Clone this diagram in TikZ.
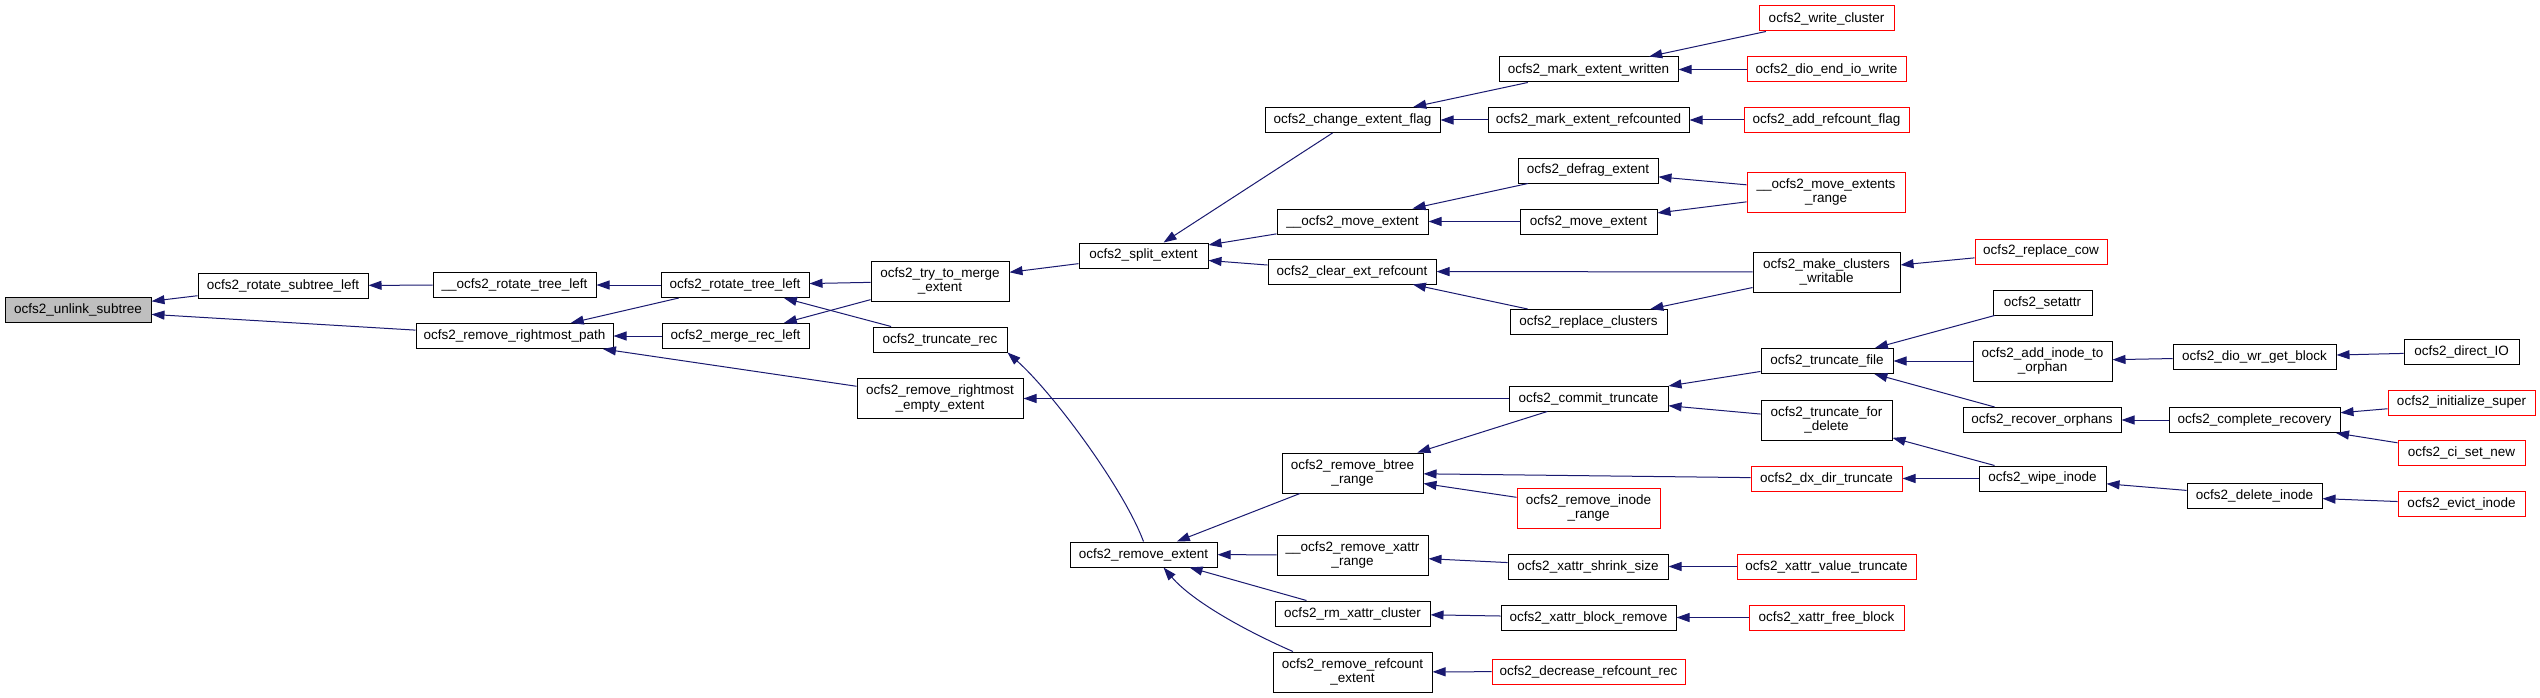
\documentclass[tikz,border=0pt]{standalone}
\usepackage{fontspec}
\setmainfont{Liberation Sans}
\usetikzlibrary{arrows.meta}
\definecolor{edgeblue}{HTML}{191970}
\definecolor{rootgray}{HTML}{BFBFBF}

\begin{document}
\begin{tikzpicture}[x=1pt,y=-1pt,
  every node/.style={font=\fontsize{13.5}{14.7}\selectfont},
  fn/.style={rectangle,draw=black,line width=1pt,fill=white,align=center,inner sep=0pt,minimum height=25pt},
  fnred/.style={fn,draw=red},
  fnroot/.style={fn,fill=rootgray},
  two/.style={minimum height=40pt},
  mw/.style={minimum width=#1pt},
  edge/.style={draw=edgeblue,line width=1pt,-{Triangle[length=13pt,width=9pt]}}
]
\fill[white] (0,0) rectangle (2540,698);
\useasboundingbox (0,0) rectangle (2540,698);

% column 1-3
\node[fnroot,mw=146] (unl) at (78,310) {ocfs2\_unlink\_subtree};
\node[fn,mw=170] (rotsub) at (283,285.5) {ocfs2\_rotate\_subtree\_left};
\node[fn,mw=163] (rotl2) at (514.5,285) {\_\_ocfs2\_rotate\_tree\_left};
\node[fn,mw=197] (rmpath) at (514.5,336) {ocfs2\_remove\_rightmost\_path};
\node[fn,mw=148] (rotl) at (735,285) {ocfs2\_rotate\_tree\_left};
\node[fn,mw=147] (mergel) at (735.5,336) {ocfs2\_merge\_rec\_left};

% column 4
\node[fn,two,mw=138] (trymrg) at (940,281) {ocfs2\_try\_to\_merge\\\_extent};
\node[fn,mw=134] (trunc) at (940,339.5) {ocfs2\_truncate\_rec};
\node[fn,two,mw=166] (rmempty) at (940,398.5) {ocfs2\_remove\_rightmost\\\_empty\_extent};

% column 5
\node[fn,mw=129] (split) at (1143.5,255.5) {ocfs2\_split\_extent};
\node[fn,mw=147] (remext) at (1143.5,554.5) {ocfs2\_remove\_extent};

% column 6
\node[fn,mw=175] (chflag) at (1352.5,120) {ocfs2\_change\_extent\_flag};
\node[fn,mw=151] (mvext2) at (1352.5,221.5) {\_\_ocfs2\_move\_extent};
\node[fn,mw=168] (clrref) at (1352,271.5) {ocfs2\_clear\_ext\_refcount};
\node[fn,two,mw=141] (rmbtree) at (1352.5,473) {ocfs2\_remove\_btree\\\_range};
\node[fn,two,mw=151] (rmxattr) at (1352.5,555) {\_\_ocfs2\_remove\_xattr\\\_range};
\node[fn,mw=155] (rmxclus) at (1352.5,613.5) {ocfs2\_rm\_xattr\_cluster};
\node[fn,two,mw=159] (rmrefc) at (1352.5,672) {ocfs2\_remove\_refcount\\\_extent};

% column 7
\node[fn,mw=179] (markwr) at (1588.5,69.5) {ocfs2\_mark\_extent\_written};
\node[fn,mw=201] (markrc) at (1588.5,120) {ocfs2\_mark\_extent\_refcounted};
\node[fn,mw=140] (defrag) at (1588,170.5) {ocfs2\_defrag\_extent};
\node[fn,mw=137] (mvext) at (1588.5,221.5) {ocfs2\_move\_extent};
\node[fn,mw=157] (replcl) at (1588.5,322) {ocfs2\_replace\_clusters};
\node[fn,mw=159] (commit) at (1588.5,398.5) {ocfs2\_commit\_truncate};
\node[fnred,two,mw=143] (rminode) at (1588.5,508) {ocfs2\_remove\_inode\\\_range};
\node[fn,mw=160] (shrink) at (1588,566.5) {ocfs2\_xattr\_shrink\_size};
\node[fn,mw=175] (blkrm) at (1588.5,617.5) {ocfs2\_xattr\_block\_remove};
\node[fnred,mw=193] (decref) at (1588.5,671.5) {ocfs2\_decrease\_refcount\_rec};

% column 8
\node[fnred,mw=135] (wrclus) at (1826.5,18.5) {ocfs2\_write\_cluster};
\node[fnred,mw=159] (dioend) at (1826.5,69.5) {ocfs2\_dio\_end\_io\_write};
\node[fnred,mw=165] (addrcf) at (1826.5,120) {ocfs2\_add\_refcount\_flag};
\node[fnred,two,mw=158] (mvrange) at (1826,192) {\_\_ocfs2\_move\_extents\\\_range};
\node[fn,two,mw=147] (mkwr) at (1826.5,272) {ocfs2\_make\_clusters\\\_writable};
\node[fn,mw=132] (truncf) at (1827,361) {ocfs2\_truncate\_file};
\node[fn,two,mw=131] (truncdel) at (1826.5,420) {ocfs2\_truncate\_for\\\_delete};
\node[fnred,mw=151] (dxdir) at (1826.5,478.5) {ocfs2\_dx\_dir\_truncate};
\node[fnred,mw=179] (valtr) at (1826.5,566.5) {ocfs2\_xattr\_value\_truncate};
\node[fnred,mw=155] (freeblk) at (1826.5,617.5) {ocfs2\_xattr\_free\_block};

% column 9
\node[fnred,mw=132] (replcow) at (2041,251.5) {ocfs2\_replace\_cow};
\node[fn,mw=99] (setattr) at (2042.5,302.5) {ocfs2\_setattr};
\node[fn,two,mw=139] (addorph) at (2042.5,361) {ocfs2\_add\_inode\_to\\\_orphan};
\node[fn,mw=158] (recorph) at (2042,420) {ocfs2\_recover\_orphans};
\node[fn,mw=127] (wipe) at (2042.5,478.5) {ocfs2\_wipe\_inode};

% column 10-11
\node[fn,mw=163] (diowr) at (2254.5,357) {ocfs2\_dio\_wr\_get\_block};
\node[fn,mw=171] (complrec) at (2254.5,420) {ocfs2\_complete\_recovery};
\node[fn,mw=135] (delino) at (2254.5,496) {ocfs2\_delete\_inode};
\node[fn,mw=115] (directio) at (2461.5,352) {ocfs2\_direct\_IO};
\node[fnred,mw=147] (initsup) at (2461.5,402.5) {ocfs2\_initialize\_super};
\node[fnred,mw=127] (cisetnew) at (2461.5,453) {ocfs2\_ci\_set\_new};
\node[fnred,mw=127] (evict) at (2461.5,504) {ocfs2\_evict\_inode};

% calls
\draw[edge] (rotsub) -- (unl);
\draw[edge] (rmpath) -- (unl);
\draw[edge] (rotl2) -- (rotsub);
\draw[edge] (rotl) -- (rotl2);
\draw[edge] (rotl) -- (rmpath);
\draw[edge] (mergel) -- (rmpath);
\draw[edge] (rmempty) -- (rmpath);
\draw[edge] (trymrg) -- (rotl);
\draw[edge] (trunc) -- (rotl);
\draw[edge] (trymrg) -- (mergel);
\draw[edge] (split) -- (trymrg);
\draw[edge] (remext.north) .. controls (1123,487) and (1052,392) .. (trunc.south east);
\draw[edge] (commit) -- (rmempty);
\draw[edge] (chflag) -- (split);
\draw[edge] (mvext2) -- (split);
\draw[edge] (clrref) -- (split);
\draw[edge] (markwr) -- (chflag);
\draw[edge] (markrc) -- (chflag);
\draw[edge] (wrclus) -- (markwr);
\draw[edge] (dioend) -- (markwr);
\draw[edge] (addrcf) -- (markrc);
\draw[edge] (defrag) -- (mvext2);
\draw[edge] (mvext) -- (mvext2);
\draw[edge] (mvrange) -- (defrag);
\draw[edge] (mvrange) -- (mvext);
\draw[edge] (mkwr) -- (clrref);
\draw[edge] (replcl) -- (clrref);
\draw[edge] (mkwr) -- (replcl);
\draw[edge] (replcow) -- (mkwr);
\draw[edge] (truncf) -- (commit);
\draw[edge] (truncdel) -- (commit);
\draw[edge] (commit) -- (rmbtree);
\draw[edge] (dxdir) -- (rmbtree);
\draw[edge] (rminode) -- (rmbtree);
\draw[edge] (rmbtree) -- (remext);
\draw[edge] (rmxattr) -- (remext);
\draw[edge] (rmxclus) -- (remext);
\draw[edge] (rmrefc.161) .. controls (1248,632) and (1193,602) .. (remext.-33);
\draw[edge] (setattr) -- (truncf);
\draw[edge] (addorph) -- (truncf);
\draw[edge] (recorph) -- (truncf);
\draw[edge] (wipe) -- (truncdel);
\draw[edge] (wipe) -- (dxdir);
\draw[edge] (shrink) -- (rmxattr);
\draw[edge] (valtr) -- (shrink);
\draw[edge] (blkrm) -- (rmxclus);
\draw[edge] (freeblk) -- (blkrm);
\draw[edge] (decref) -- (rmrefc);
\draw[edge] (diowr) -- (addorph);
\draw[edge] (directio) -- (diowr);
\draw[edge] (complrec) -- (recorph);
\draw[edge] (initsup) -- (complrec);
\draw[edge] (cisetnew) -- (complrec);
\draw[edge] (delino) -- (wipe);
\draw[edge] (evict) -- (delino);
\end{tikzpicture}
\end{document}
